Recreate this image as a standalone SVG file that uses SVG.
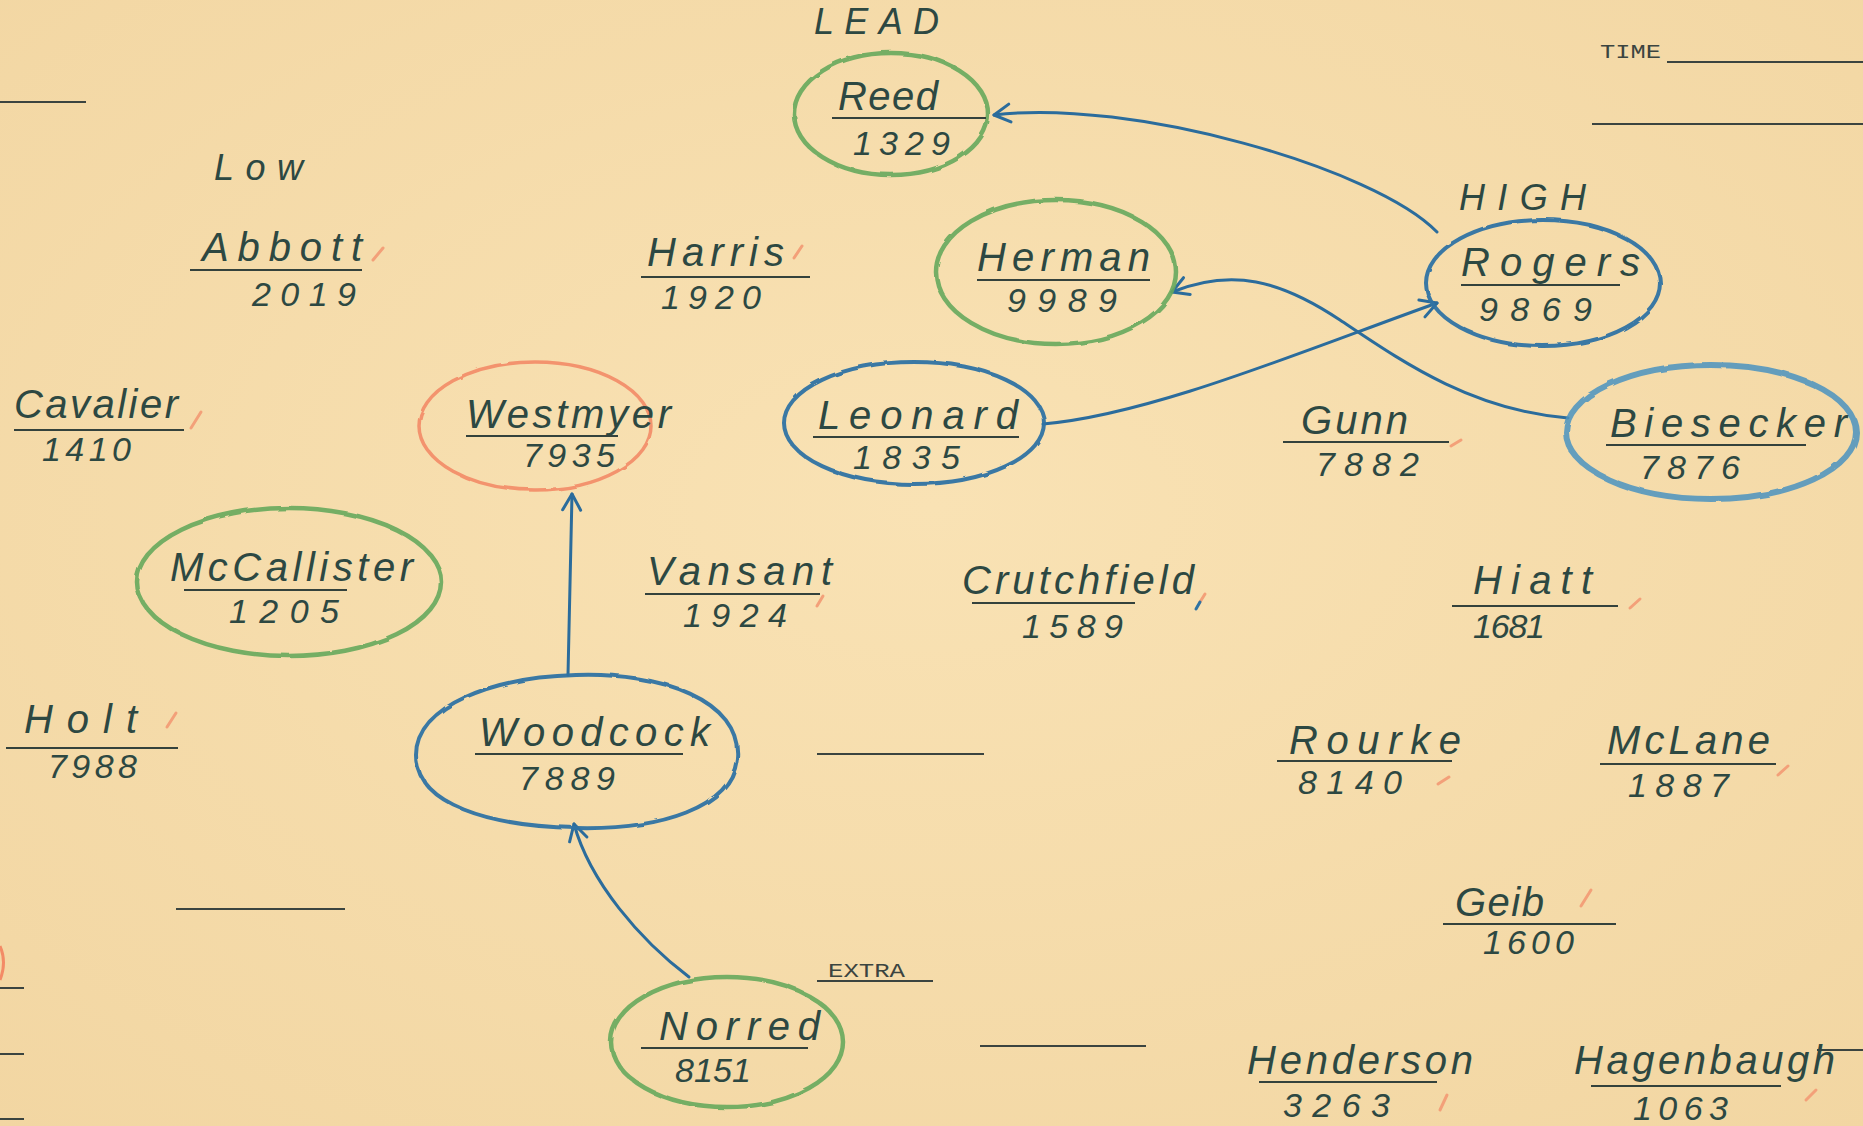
<svg xmlns="http://www.w3.org/2000/svg" width="1863" height="1126" viewBox="0 0 1863 1126">
<defs>
<radialGradient id="paper" cx="50%" cy="45%" r="75%">
<stop offset="0" stop-color="#f9e2b4"/>
<stop offset="1" stop-color="#f2d6a2"/>
</radialGradient>
<marker id="vhead" viewBox="-18 -12 22 24" refX="0" refY="0" markerWidth="22" markerHeight="24" markerUnits="userSpaceOnUse" orient="auto">
<path d="M-16,-9 L0,0 L-16,9" fill="none" stroke="#2b6c9c" stroke-width="3" stroke-linecap="round" stroke-linejoin="round"/>
</marker>
<filter id="rough" x="-10%" y="-10%" width="120%" height="120%">
<feTurbulence type="fractalNoise" baseFrequency="0.04" numOctaves="2" seed="3"/>
<feDisplacementMap in="SourceGraphic" scale="3"/>
</filter>
</defs>
<style>
.nm{font-family:"Liberation Sans","DejaVu Sans",sans-serif;font-style:italic;font-size:40px;fill:#2d4842;}
.num{font-family:"Liberation Sans","DejaVu Sans",sans-serif;font-style:italic;font-size:34px;fill:#2d4842;}
.hdr{font-family:"Liberation Sans","DejaVu Sans",sans-serif;font-style:italic;font-size:36px;fill:#2d4842;}
.tw{font-family:"Liberation Mono","DejaVu Sans Mono",monospace;font-size:21px;fill:#3b4440;}
.ul{stroke:#34423c;stroke-width:2.2;fill:none;}
.tl{stroke:#3b4440;stroke-width:2;fill:none;}
.tick{stroke:#f3a079;stroke-width:3;stroke-linecap:round;fill:none;}
.g{fill:none;stroke:#66a85c;stroke-width:4.5;stroke-opacity:0.9;}
.b{fill:none;stroke:#2f73a3;stroke-width:4;stroke-opacity:0.95;}
.bl{fill:none;stroke:#4a93bf;stroke-width:6;stroke-opacity:0.85;}
.o{fill:none;stroke:#f38b66;stroke-width:3.5;stroke-opacity:0.9;}
.edge{fill:none;stroke:#2b6c9c;stroke-width:3;stroke-linecap:round;marker-end:url(#vhead);}
</style>
<rect x="0" y="0" width="1863" height="1126" fill="url(#paper)"/>

<!-- typewritten form lines -->
<g id="form">
<line class="tl" x1="0" y1="102" x2="86" y2="102"/>
<text class="tw" x="1600" y="58" textLength="61" lengthAdjust="spacingAndGlyphs">TIME</text>
<line class="tl" x1="1667" y1="62" x2="1863" y2="62"/>
<line class="tl" x1="1592" y1="124" x2="1863" y2="124"/>
<line class="tl" x1="817" y1="754" x2="984" y2="754"/>
<line class="tl" x1="176" y1="909" x2="345" y2="909"/>
<line class="tl" x1="980" y1="1046" x2="1146" y2="1046"/>
<text class="tw" x="828" y="977" textLength="77" lengthAdjust="spacingAndGlyphs">EXTRA</text>
<line class="tl" x1="817" y1="981" x2="933" y2="981"/>
<line class="tl" x1="1817" y1="1050" x2="1863" y2="1050"/>
<line class="tl" x1="0" y1="988" x2="24" y2="988"/>
<line class="tl" x1="0" y1="1054" x2="24" y2="1054"/>
<line class="tl" x1="0" y1="1119" x2="24" y2="1119"/>
<path d="M0,946 Q7,962 0,980" fill="none" stroke="#f38b66" stroke-width="3"/>
</g>

<!-- headings -->
<g id="labels">
<text class="hdr" x="814" y="34" textLength="125" lengthAdjust="spacing">LEAD</text>
<text class="hdr" x="214" y="180" font-size="32" textLength="89" lengthAdjust="spacing">Low</text>
<text class="hdr" x="1459" y="210" font-size="38" textLength="127" lengthAdjust="spacing">HIGH</text>
</g>

<!-- connectors -->
<g id="connectors">
<path class="edge" d="M1437,232 C1375,168 1130,98 994,115"/>
<path class="edge" d="M1568,418 C1470,410 1400,360 1340,320 S1232,268 1172,292"/>
<path class="edge" d="M1043,424 C1150,415 1300,352 1437,303"/>
<path class="edge" d="M568,675 L572,494"/>
<path class="edge" d="M689,977 C640,940 590,882 574,824"/>
</g>

<!-- circled nodes -->
<g id="reed">
<ellipse class="g" cx="891" cy="114" rx="97" ry="61" filter="url(#rough)"/>
<text class="nm" x="838" y="110" textLength="100" lengthAdjust="spacing">Reed</text>
<line class="ul" x1="832" y1="118" x2="986" y2="118"/>
<text class="num" x="853" y="155" textLength="97" lengthAdjust="spacing">1329</text>
</g>
<g id="herman">
<ellipse class="g" cx="1056" cy="272" rx="120" ry="72" filter="url(#rough)"/>
<text class="nm" x="977" y="271" textLength="173" lengthAdjust="spacing">Herman</text>
<line class="ul" x1="977" y1="280" x2="1150" y2="280"/>
<text class="num" x="1007" y="312" textLength="110" lengthAdjust="spacing">9989</text>
</g>
<g id="rogers">
<ellipse class="b" cx="1543" cy="283" rx="117" ry="63" filter="url(#rough)"/>
<text class="nm" x="1461" y="276" textLength="179" lengthAdjust="spacing">Rogers</text>
<line class="ul" x1="1461" y1="285" x2="1620" y2="285"/>
<text class="num" x="1479" y="321" textLength="113" lengthAdjust="spacing">9869</text>
</g>
<g id="leonard">
<ellipse class="b" cx="914" cy="423" rx="130" ry="61" filter="url(#rough)"/>
<text class="nm" x="818" y="429" textLength="200" lengthAdjust="spacing">Leonard</text>
<line class="ul" x1="813" y1="437" x2="1019" y2="437"/>
<text class="num" x="853" y="469" textLength="107" lengthAdjust="spacing">1835</text>
</g>
<g id="biesecker">
<ellipse class="bl" cx="1711" cy="432" rx="145" ry="67" filter="url(#rough)"/>
<text class="nm" x="1610" y="437" textLength="237" lengthAdjust="spacing">Biesecker</text>
<line class="ul" x1="1606" y1="445" x2="1806" y2="445"/>
<text class="num" x="1640" y="479" textLength="100" lengthAdjust="spacing">7876</text>
</g>
<g id="westmyer">
<ellipse class="o" cx="535" cy="426" rx="116" ry="64" filter="url(#rough)"/>
<text class="nm" x="466" y="428" textLength="205" lengthAdjust="spacing">Westmyer</text>
<line class="ul" x1="466" y1="436" x2="618" y2="436"/>
<text class="num" x="523" y="467" textLength="92" lengthAdjust="spacing">7935</text>
</g>
<g id="mccallister">
<ellipse class="g" cx="289" cy="582" rx="152" ry="74" filter="url(#rough)"/>
<text class="nm" x="170" y="581" textLength="243" lengthAdjust="spacing">McCallister</text>
<line class="ul" x1="184" y1="590" x2="347" y2="590"/>
<text class="num" x="229" y="623" textLength="110" lengthAdjust="spacing">1205</text>
</g>
<g id="woodcock">
<path class="b" d="M576,675 C660,672 742,700 737,758 C732,808 660,830 576,828 C490,826 416,805 416,755 C416,705 495,677 576,675 Z" filter="url(#rough)"/>
<text class="nm" x="479" y="746" textLength="231" lengthAdjust="spacing">Woodcock</text>
<line class="ul" x1="475" y1="754" x2="683" y2="754"/>
<text class="num" x="519" y="790" textLength="96" lengthAdjust="spacing">7889</text>
</g>
<g id="norred">
<ellipse class="g" cx="727" cy="1042" rx="116" ry="65" filter="url(#rough)"/>
<text class="nm" x="659" y="1040" textLength="161" lengthAdjust="spacing">Norred</text>
<line class="ul" x1="641" y1="1048" x2="808" y2="1048"/>
<text class="num" x="675" y="1082" font-size="30" textLength="76" lengthAdjust="spacing">8151</text>
</g>

<!-- uncircled names -->
<g id="abbott">
<text class="nm" x="202" y="261" textLength="160" lengthAdjust="spacing">Abbott</text>
<line class="ul" x1="190" y1="270" x2="362" y2="270"/>
<text class="num" x="252" y="306" textLength="104" lengthAdjust="spacing">2019</text>
<line class="tick" x1="373" y1="260" x2="383" y2="248"/>
</g>
<g id="harris">
<text class="nm" x="647" y="266" textLength="137" lengthAdjust="spacing">Harris</text>
<line class="ul" x1="641" y1="277" x2="810" y2="277"/>
<text class="num" x="661" y="309" textLength="100" lengthAdjust="spacing">1920</text>
<line class="tick" x1="794" y1="258" x2="802" y2="246"/>
</g>
<g id="cavalier">
<text class="nm" x="14" y="418" textLength="164" lengthAdjust="spacing">Cavalier</text>
<line class="ul" x1="14" y1="430" x2="184" y2="430"/>
<text class="num" x="42" y="461" textLength="89" lengthAdjust="spacing">1410</text>
<line class="tick" x1="191" y1="428" x2="201" y2="412"/>
</g>
<g id="gunn">
<text class="nm" x="1301" y="434" textLength="107" lengthAdjust="spacing">Gunn</text>
<line class="ul" x1="1283" y1="442" x2="1449" y2="442"/>
<text class="num" x="1316" y="476" textLength="103" lengthAdjust="spacing">7882</text>
<line class="tick" x1="1451" y1="446" x2="1461" y2="440"/>
</g>
<g id="vansant">
<text class="nm" x="647" y="585" textLength="185" lengthAdjust="spacing">Vansant</text>
<line class="ul" x1="645" y1="594" x2="820" y2="594"/>
<text class="num" x="683" y="627" textLength="104" lengthAdjust="spacing">1924</text>
<line class="tick" x1="817" y1="606" x2="823" y2="596"/>
</g>
<g id="crutchfield">
<text class="nm" x="962" y="594" textLength="232" lengthAdjust="spacing">Crutchfield</text>
<line class="ul" x1="972" y1="603" x2="1135" y2="603"/>
<text class="num" x="1022" y="638" textLength="101" lengthAdjust="spacing">1589</text>
<line class="tick" x1="1200" y1="602" x2="1205" y2="594"/>
<line x1="1196" y1="609" x2="1200" y2="602" stroke="#2f73a3" stroke-width="3" stroke-linecap="round"/>
</g>
<g id="hiatt">
<text class="nm" x="1473" y="594" textLength="119" lengthAdjust="spacing">Hiatt</text>
<line class="ul" x1="1452" y1="606" x2="1618" y2="606"/>
<text class="num" x="1473" y="638" font-size="30" textLength="72" lengthAdjust="spacing">1681</text>
<line class="tick" x1="1630" y1="608" x2="1640" y2="599"/>
</g>
<g id="holt">
<text class="nm" x="24" y="733" textLength="113" lengthAdjust="spacing">Holt</text>
<line class="ul" x1="6" y1="748" x2="178" y2="748"/>
<text class="num" x="48" y="778" textLength="89" lengthAdjust="spacing">7988</text>
<line class="tick" x1="167" y1="727" x2="176" y2="713"/>
</g>
<g id="rourke">
<text class="nm" x="1289" y="754" textLength="172" lengthAdjust="spacing">Rourke</text>
<line class="ul" x1="1277" y1="761" x2="1452" y2="761"/>
<text class="num" x="1298" y="794" textLength="104" lengthAdjust="spacing">8140</text>
<line class="tick" x1="1438" y1="784" x2="1449" y2="777"/>
</g>
<g id="mclane">
<text class="nm" x="1607" y="754" textLength="163" lengthAdjust="spacing">McLane</text>
<line class="ul" x1="1600" y1="764" x2="1776" y2="764"/>
<text class="num" x="1628" y="797" textLength="101" lengthAdjust="spacing">1887</text>
<line class="tick" x1="1778" y1="775" x2="1788" y2="766"/>
</g>
<g id="geib">
<text class="nm" x="1455" y="916" textLength="89" lengthAdjust="spacing">Geib</text>
<line class="ul" x1="1443" y1="924" x2="1616" y2="924"/>
<text class="num" x="1483" y="954" textLength="91" lengthAdjust="spacing">1600</text>
<line class="tick" x1="1581" y1="906" x2="1591" y2="890"/>
</g>
<g id="henderson">
<text class="nm" x="1247" y="1074" textLength="226" lengthAdjust="spacing">Henderson</text>
<line class="ul" x1="1259" y1="1082" x2="1437" y2="1082"/>
<text class="num" x="1283" y="1117" textLength="107" lengthAdjust="spacing">3263</text>
<line class="tick" x1="1440" y1="1110" x2="1447" y2="1095"/>
</g>
<g id="hagenbaugh">
<text class="nm" x="1574" y="1074" textLength="261" lengthAdjust="spacing">Hagenbaugh</text>
<line class="ul" x1="1591" y1="1086" x2="1781" y2="1086"/>
<text class="num" x="1633" y="1120" textLength="95" lengthAdjust="spacing">1063</text>
<line class="tick" x1="1806" y1="1100" x2="1816" y2="1090"/>
</g>
</svg>
